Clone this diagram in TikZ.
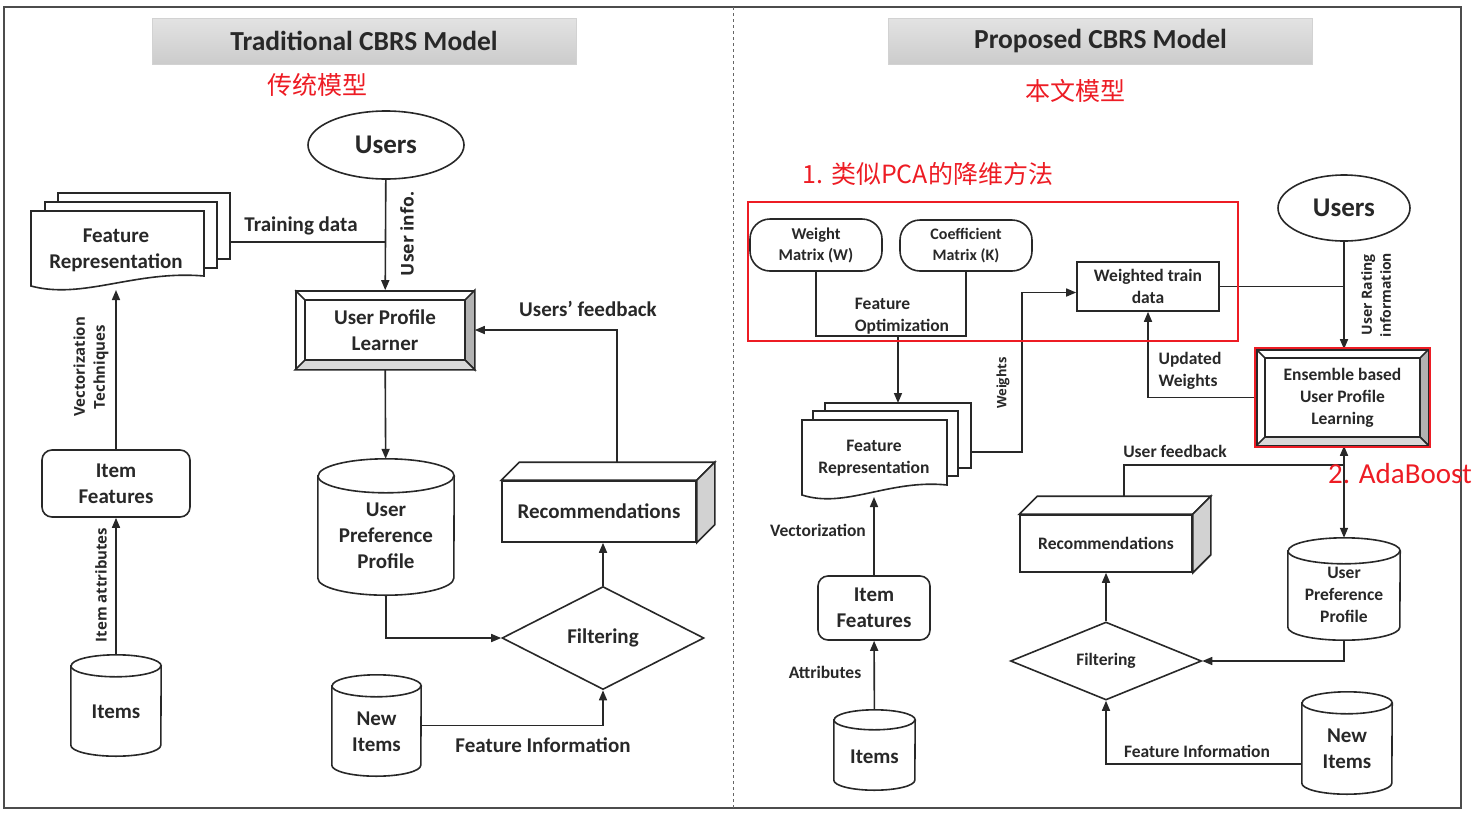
\documentclass[tikz,border=0pt]{standalone}
\usepackage{fontspec}
\setmainfont{Carlito}
\newfontfamily\opensans{Open Sans}
\newfontfamily\cjk{Noto Sans CJK SC}
\usetikzlibrary{shapes.geometric,arrows.meta,positioning,calc}

\definecolor{mred}{RGB}{237,28,36}
\definecolor{ink}{RGB}{40,40,40}

\tikzset{
  line/.style={draw=ink, line width=1.6pt},
  arr/.style={line, -{Triangle[length=10pt,width=8pt]}},
  arrboth/.style={line, {Triangle[length=10pt,width=8pt]}-{Triangle[length=10pt,width=8pt]}},
  big/.style={text=ink, align=center, font=\bfseries\fontsize{21}{26}\selectfont},
  sml/.style={text=ink, align=center, font=\bfseries\fontsize{17.5}{22}\selectfont},
  vlbl/.style={text=ink, rotate=90, align=center, font=\opensans\bfseries\fontsize{15}{20}\selectfont},
  titlebar/.style={rectangle, draw=gray!35, line width=1pt, top color=gray!22, bottom color=gray!40,
    minimum width=424, minimum height=46, text=ink, font=\bfseries\fontsize{27.5}{30}\selectfont},
  users/.style={ellipse, draw=ink, line width=1.6pt, fill=white, text=ink, inner sep=0pt,
    font=\bfseries\fontsize{27}{30}\selectfont},
  box/.style={rectangle, draw=ink, line width=1.6pt, fill=white, inner sep=0pt},
  rbox/.style={box, rounded corners=10pt},
  filter/.style={diamond, draw=ink, line width=1.6pt, fill=white, inner sep=0pt},
  redframe/.style={draw=mred, line width=2.6pt},
  note/.style={text=mred, font=\cjk\fontsize{25}{28}\selectfont},
}

% bevelled frame on top of a box node: #1 node, #2 inset
\newcommand{\bevel}[2]{%
  \filldraw[line, fill=gray!60] (#1.north east) -- (#1.south east) -- ($(#1.south east)+(-#2,#2)$) -- ($(#1.north east)+(-#2,-#2)$) -- cycle;
  \filldraw[line, fill=gray!30] (#1.south west) -- (#1.south east) -- ($(#1.south east)+(-#2,#2)$) -- ($(#1.south west)+(#2,#2)$) -- cycle;
  \draw[line] (#1.north west) -- ($(#1.north west)+(#2,-#2)$);
  \draw[line] ($(#1.north west)+(#2,-#2)$) rectangle ($(#1.south east)+(-#2,#2)$);
}
% 3d block: #1 node, #2 depth
\newcommand{\block}[2]{%
  \filldraw[line, fill=white] (#1.north west) -- ++(#2,#2) -- ($(#1.north east)+(#2,#2)$) -- (#1.north east) -- cycle;
  \filldraw[line, fill=gray!35] (#1.north east) -- ++(#2,#2) -- ($(#1.south east)+(#2,#2)$) -- (#1.south east) -- cycle;
}
% document page with wavy bottom: x1, top, x2, bottom (left end)
\newcommand{\docpage}[4]{%
  \filldraw[line, fill=white] (#1,-#2) -- (#3,-#2) -- (#3,{-#4+10})
    .. controls ({#1+0.6*(#3-#1)},{-#4+16}) and ({#1+0.3*(#3-#1)},{-#4-14}) .. (#1,-#4) -- cycle;
}
% database cylinder: name, x, y, width, height, cap radius
\newcommand{\dbcyl}[6]{%
  \node[inner sep=0pt, minimum width=#4, minimum height=#5] (#1) at (#2,#3) {};
  \filldraw[line, fill=white] ($(#1.north west)+(0,-#6)$) -- ($(#1.south west)+(0,#6)$)
    arc[start angle=180, end angle=360, x radius=#4/2, y radius=#6]
    -- ($(#1.north east)+(0,-#6)$)
    arc[start angle=0, end angle=180, x radius=#4/2, y radius=#6] -- cycle;
  \draw[line] ($(#1.north west)+(0,-#6)$) arc[start angle=180, end angle=360, x radius=#4/2, y radius=#6];
}

\begin{document}
\begin{tikzpicture}[x=1pt,y=1pt]
\useasboundingbox (0,0) rectangle (1481,-820);

% frame
\draw[line width=1.2pt, black!70] (4,-7) rectangle (1461,-808);
\draw[dashed, black!60, line width=1pt] (733,-7) -- (733,-808);

%%%%% traditional model
\node[titlebar] (title1) at (364,-41) {Traditional CBRS Model};
\node[note] (cn1) at (317,-85) {传统模型};

\node[users, minimum width=156, minimum height=68] (users1) at (386,-145) {Users};

\filldraw[line, fill=white] (58,-193) rectangle (230,-259);
\filldraw[line, fill=white] (45,-202) rectangle (217,-268);
\docpage{31}{211}{204}{286}
\node[big] (featrep1) at (116,-250) {Feature\\Representation};
\coordinate (trainout) at (230,-242);
\coordinate (fr1b) at (116,-290);

\node[box, minimum width=178, minimum height=78] (learner) at (385,-330) {};
\bevel{learner}{10}
\node[big] at (learner) {User Profile\\Learner};

\dbcyl{pref1}{386}{-527}{136}{136}{17}
\node[big] at (386,-536) {User\\Preference\\Profile};

\node[box, minimum width=194, minimum height=61] (rec1) at (599,-511.5) {};
\block{rec1}{18}
\node[big] at (rec1) {Recommendations};

\node[filter, minimum width=202, minimum height=103] (filt1) at (603,-638) {};
\node[big] at (filt1) {Filtering};

\dbcyl{newit1}{376.5}{-725.5}{89}{101}{11}
\node[big] at (376.5,-732) {New\\Items};

\node[rbox, minimum width=148, minimum height=67] (itf1) at (116,-483.5) {};
\node[big] at (itf1) {Item\\Features};

\dbcyl{items1}{116}{-705.5}{90}{101}{11}
\node[big] at (116,-712) {Items};

% connectors
\draw[arr] (users1) -- (learner);
\draw[line] (trainout) -- (trainout -| users1);
\node[big] (traintxt) at (301,-226) {Training data};
\node[vlbl, font=\opensans\bfseries\fontsize{17.5}{20}\selectfont] (uinfo) at (407,-234) {User info.};
\draw[arr] (learner) -- (pref1);
\draw[arr] ($(rec1.north)+(18,18)$) |- (learner.east);
\node[big] (fbtxt) at (588,-309) {Users’ feedback};
\draw[arr] (filt1.north) -- (filt1.north |- rec1.south);
\draw[arr] (pref1.south) |- (filt1.west);
\draw[arr] (newit1.east) -| (filt1.south);
\node[big] (fitxt) at (543,-745) {Feature Information};
\draw[arr] (items1) -- (itf1);
\node[vlbl] (attrtxt) at (101,-585) {Item attributes};
\draw[arr] (itf1) -- (fr1b);
\node[vlbl] (vectxt) at (91,-367) {Vectorization\\Techniques};

%%%%% proposed model
\node[titlebar] (title2) at (1100.5,-41) {Proposed CBRS Model};
\node[note] (cn2) at (1075,-91) {本文模型};
\node[note] (cn3) at (928,-174) {1. 类似PCA的降维方法};

\node[rbox, rounded corners=20pt, minimum width=132, minimum height=52] (wm) at (816,-245) {};
\node[sml, font=\bfseries\fontsize{16.5}{21}\selectfont] at (wm) {Weight\\Matrix (W)};
\node[rbox, rounded corners=20pt, minimum width=132, minimum height=51] (cm) at (966,-245.5) {};
\node[sml, font=\bfseries\fontsize{16}{21}\selectfont] at (cm) {Coefficient\\Matrix (K)};
\coordinate (optmid) at (898,-336);

\node[box, minimum width=142, minimum height=49] (wtd) at (1148,-286.5) {};
\node[sml] at (wtd) {Weighted train\\data};

\node[users, minimum width=132, minimum height=66] (users2) at (1344,-208) {Users};

\node[box, minimum width=171, minimum height=95] (ens) at (1342.5,-397.5) {};
\bevel{ens}{9}
\node[sml] at (ens) {Ensemble based\\User Profile\\Learning};

\filldraw[line, fill=white] (825,-403) rectangle (971,-468);
\filldraw[line, fill=white] (813,-411) rectangle (958,-476);
\docpage{802}{420}{947}{495}
\node[sml] (featrep2) at (874,-458) {Feature\\Representation};
\coordinate (fr2top) at (898,-403);
\coordinate (fr2b) at (874,-497);
\coordinate (wout) at (971,-452);

\node[box, minimum width=172, minimum height=57] (rec2) at (1106,-543.5) {};
\block{rec2}{18}
\node[sml] at (rec2) {Recommendations};

\dbcyl{pref2}{1344}{-589}{112}{102}{13}
\node[sml] at (1344,-595) {User\\Preference\\Profile};

\node[filter, minimum width=191, minimum height=78] (filt2) at (1106,-661) {};
\node[sml] at (filt2) {Filtering};

\dbcyl{newit2}{1347}{-743}{90}{102}{11}
\node[big] at (1347,-749) {New\\Items};

\node[rbox, minimum width=112, minimum height=64] (itf2) at (874,-608) {};
\node[big] at (itf2) {Item\\Features};

\dbcyl{items2}{874.5}{-750}{81}{80}{10}
\node[big] at (874.5,-757) {Items};

% connectors
\draw[line] (wm.south) |- (optmid) -| (cm.south);
\node[sml, align=left] (opttxt) at (902,-316) {Feature\\Optimization};
\draw[arr] (optmid) -- (fr2top);
\draw[arr] (wout) -- ++(51,0) |- ($(wtd.west)+(0,-6)$);
\node[vlbl, font=\opensans\bfseries\fontsize{13}{16}\selectfont] (wtxt) at (1003,-383) {Weights};
\draw[line] (wtd.east) -- (wtd.east -| users2);
\draw[arr] (users2) -- (users2 |- ens.north);
\node[vlbl, font=\opensans\bfseries\fontsize{14}{19}\selectfont] (urtxt) at (1376,-295) {User Rating\\information};
\draw[arr] (ens.west) -| (wtd.south);
\node[sml, align=left] (updtxt) at (1190,-371) {Updated\\Weights};
\draw[arrboth] (ens.south -| users2) -- (users2 |- pref2.north);
\coordinate (fbjoin) at (1344,-465);
\draw[line] ($(rec2.north)+(18,18)$) |- (fbjoin);
\node[sml] (ufbtxt) at (1175,-451) {User feedback};
\draw[arr] (filt2.north) -- (rec2.south);
\draw[arr] (pref2.south) |- (filt2.east);
\draw[arr] ($(newit2.west)+(0,-21)$) -| (filt2.south);
\node[sml] (fi2txt) at (1197,-751) {Feature Information};
\draw[arr] (items2) -- (itf2);
\node[sml] (atxt) at (825,-672) {Attributes};
\draw[arr] (itf2) -- (fr2b);
\node[sml] (vtxt) at (818,-530) {Vectorization};

% annotations
\draw[redframe] (748,-202) rectangle (1238,-341);
\draw[redframe] (1255,-348) rectangle (1430,-447);
\node[text=mred, font=\fontsize{29}{32}\selectfont] (ada) at (1400,-474) {2. AdaBoost};
\end{tikzpicture}
\end{document}
